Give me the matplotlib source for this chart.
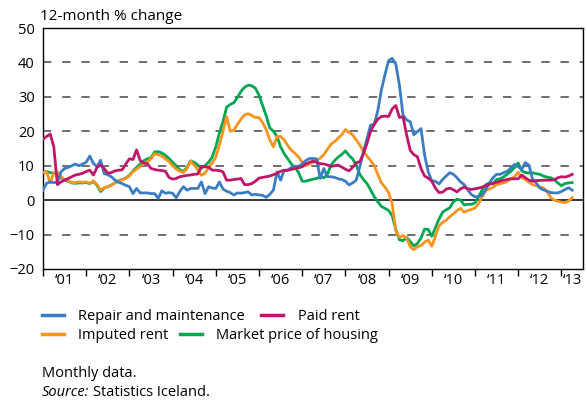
import numpy as np
import matplotlib
matplotlib.use("Agg")
import matplotlib.pyplot as plt
from matplotlib.lines import Line2D

plt.rcParams['font.family'] = ['Open Sans', 'DejaVu Sans']
plt.rcParams['font.size'] = 10.5

# 12-month % change, monthly, Jan 2001 - Apr 2013
repair = [2.9, 4.9, 5.3, 5.1, 5.2, 8.2, 9.2, 9.5, 10.0, 10.5, 10.0, 10.5,
          11.0, 12.8, 10.7, 9.7, 11.6, 7.7, 7.4, 6.8, 5.8, 5.2, 4.8, 4.3,
          3.9, 1.9, 3.4, 2.1, 2.1, 2.1, 1.9, 1.9, 0.5, 2.7, 2.0, 2.2,
          2.0, 0.7, 2.5, 3.9, 2.9, 3.4, 3.4, 3.4, 5.3, 1.9, 3.9, 3.5,
          3.4, 5.3, 3.2, 2.6, 2.2, 1.5, 2.1, 2.0, 2.2, 2.4, 1.5, 1.7,
          1.5, 1.4, 0.8, 1.7, 2.9, 8.2, 5.8, 8.7, 8.7, 9.5, 9.7, 9.8,
          10.5, 11.5, 12.1, 12.1, 12.0, 6.3, 9.2, 6.8, 6.8, 6.6, 6.2, 6.0,
          5.5, 4.4, 5.0, 5.8, 9.7, 14.0, 17.9, 21.8, 22.0, 26.0, 32.0, 36.5,
          40.5, 41.2, 39.5, 33.5, 24.7, 23.3, 22.8, 19.0, 19.9, 20.8, 13.1, 8.2,
          5.6, 5.5, 4.7, 6.0, 7.0, 8.0, 7.5, 6.5, 5.3, 4.5, 3.0, 1.6,
          1.0, 1.0, 1.5, 3.1, 5.0, 6.5, 7.5, 7.5, 8.0, 8.4, 9.4, 10.4,
          9.7, 9.0, 10.9, 10.1, 6.0, 5.0, 3.5, 3.0, 2.6, 2.2, 2.1, 2.1,
          2.5, 3.1, 3.6, 2.9]

paid_rent = [17.7, 18.5, 19.2, 15.5, 4.5, 5.3, 5.8, 6.3, 6.8, 7.3, 7.5, 7.8,
             8.3, 8.7, 7.3, 9.5, 10.2, 9.2, 7.8, 8.0, 8.5, 8.7, 8.8, 10.5,
             12.0, 11.8, 14.6, 11.5, 10.8, 10.6, 9.2, 8.9, 8.7, 8.6, 8.4, 6.6,
             6.1, 6.3, 6.8, 7.0, 7.2, 7.3, 7.5, 7.6, 9.7, 9.7, 9.6, 8.7,
             8.7, 8.6, 8.2, 5.8, 5.8, 6.0, 6.1, 6.3, 4.5, 4.5, 4.8, 5.5,
             6.4, 6.6, 6.8, 7.0, 7.4, 7.8, 8.4, 8.6, 8.7, 8.9, 9.2, 9.4,
             9.7, 10.5, 11.0, 11.3, 11.0, 10.6, 10.5, 10.2, 9.8, 10.0, 10.2, 9.6,
             9.0, 8.5, 9.5, 10.8, 11.2, 13.5, 16.5, 20.0, 22.0, 23.5, 24.3, 24.4,
             24.3, 26.5, 27.5, 24.0, 24.2, 19.0, 14.5, 13.2, 12.6, 9.2, 7.0, 6.4,
             5.5, 3.5, 2.2, 2.3, 3.2, 3.5, 3.0, 2.4, 3.3, 3.8, 3.3, 3.1,
             3.3, 3.5, 3.8, 4.2, 4.6, 4.9, 5.2, 5.5, 5.8, 6.0, 6.2, 6.2,
             6.2, 7.3, 6.5, 5.8, 5.5, 5.7, 5.7, 5.8, 5.8, 5.8, 5.9, 6.5,
             6.8, 6.7, 7.0, 7.5]

imputed_rent = [8.0, 8.3, 5.0, 7.9, 8.2, 6.8, 6.0, 5.8, 5.0, 5.1, 5.3, 5.2,
                5.3, 4.9, 5.6, 4.5, 2.9, 3.6, 3.9, 4.3, 5.0, 5.6, 6.0, 6.3,
                7.0, 8.3, 9.0, 9.8, 10.5, 11.2, 12.0, 13.5, 13.2, 12.8, 12.0, 11.2,
                10.0, 9.0, 8.4, 8.0, 9.2, 11.3, 10.2, 8.8, 7.2, 7.8, 9.5, 10.8,
                12.5, 16.0, 20.0, 24.3, 20.0, 20.3, 22.0, 23.5, 24.8, 25.1, 24.6, 24.0,
                24.0, 22.5, 20.5, 17.5, 15.5, 18.5, 18.5, 17.5, 15.8, 14.5, 13.6, 12.5,
                11.0, 10.0, 10.5, 11.0, 11.5, 12.2, 13.2, 14.8, 16.2, 17.0, 18.0, 19.0,
                20.5, 19.7, 19.0, 17.5, 16.0, 14.2, 12.8, 11.5, 10.0, 7.5, 5.0, 3.8,
                2.2, -1.0, -9.0, -10.8, -10.3, -11.0, -13.5, -14.4, -13.5, -13.2, -12.2, -11.6,
                -13.4, -10.5, -7.5, -6.5, -5.8, -4.8, -4.0, -3.0, -2.4, -3.5, -3.0, -2.7,
                -2.3, -1.0, 1.0, 2.8, 3.3, 3.7, 4.5, 4.8, 5.0, 5.5, 6.2, 6.8,
                8.1, 6.5, 6.0, 5.2, 4.5, 4.2, 3.8, 3.6, 2.5, 0.8, 0.0, -0.3,
                -0.6, -0.7, -0.3, 0.7]

market_price = [8.0, 8.3, 8.0, 7.8, 7.9, 6.5, 5.8, 5.5, 5.0, 4.9, 5.0, 5.0,
                5.1, 4.8, 5.4, 4.3, 2.5, 3.5, 3.9, 4.4, 5.0, 5.6, 6.0, 6.4,
                7.2, 8.5, 9.5, 10.5, 11.5, 12.0, 12.3, 14.0, 14.1, 13.7, 13.0, 12.1,
                11.0, 10.0, 8.8, 8.3, 9.5, 11.4, 11.0, 10.2, 9.3, 10.0, 11.0, 12.5,
                15.5, 19.5, 22.8, 27.0, 27.8, 28.3, 29.8, 31.6, 32.8, 33.4, 33.2, 32.5,
                30.5, 27.5, 24.5, 21.0, 20.0, 18.5, 15.5, 13.5, 12.0, 10.5, 9.5, 8.0,
                5.5, 5.5, 5.8, 6.1, 6.3, 6.8, 6.5, 7.5, 10.2, 11.5, 12.5, 13.3,
                14.3, 13.0, 12.0, 10.2, 7.5, 6.0, 4.8, 3.0, 1.0, -0.5, -1.8, -2.4,
                -3.0, -4.5, -8.5, -11.5, -11.8, -10.8, -12.0, -13.3, -12.6, -11.0, -8.4, -8.5,
                -10.5, -8.0, -5.5, -3.5, -2.8, -2.2, -0.5, 0.3, 0.0, -1.4, -1.2, -1.2,
                -0.8, 1.0, 3.0, 4.5, 5.0, 4.7, 6.0, 6.2, 6.8, 7.6, 8.4, 9.5,
                10.8, 8.5, 8.0, 7.9, 7.9, 7.7, 7.5, 7.0, 6.7, 6.5, 6.0, 5.0,
                4.2, 4.8, 5.0, 5.1]

years = list(range(2001, 2014))
year_labels = ["\u2018%02d" % (y % 100) for y in years]

# month positions as fractional years
months = 2001 + np.arange(len(repair)) / 12.0

c_blue = "#3b7dc4"
c_red = "#c0166a"
c_orange = "#f7941e"
c_green = "#00a651"

fig = plt.figure(figsize=(5.87, 4.03), dpi=100)
ax = fig.add_axes([43 / 587, 1 - 269 / 403, 540 / 587, 241 / 403])

lw = 2.0
ax.plot(months, market_price, color=c_green, lw=lw, zorder=3)
ax.plot(months, imputed_rent, color=c_orange, lw=lw, zorder=4)
ax.plot(months, repair, color=c_blue, lw=lw, zorder=5)
ax.plot(months, paid_rent, color=c_red, lw=lw, zorder=6)

# grid lines
for v in [40, 30, 20, 10, -10]:
    ax.axhline(v, color="#555555", lw=1.2, dashes=(5, 6.5), zorder=1)
ax.axhline(0, color="black", lw=1.1, zorder=2)

ax.set_ylim(-20, 50)
ax.set_xlim(2001, 2013.5)
ax.set_yticks(range(-20, 51, 10))
ax.tick_params(axis="y", length=0, pad=6, labelsize=10.5)

ax.set_xticks(years)
ax.set_xticklabels([])
ax.tick_params(axis="x", which="major", direction="out", length=5, width=1)
label_pos = [y + 0.5 for y in years[:-1]] + [2013.25]
ax.set_xticks(label_pos, minor=True)
ax.set_xticklabels(year_labels, minor=True)
ax.tick_params(axis="x", which="minor", length=0, pad=3, labelsize=10.5)

for s in ax.spines.values():
    s.set_linewidth(1.0)
    s.set_color("black")

fig.text(40 / 587, 1 - 19.5 / 403, "12-month % change", fontsize=11, va="baseline")

# legend in two rows
h_blue = Line2D([], [], color=c_blue, lw=2.5)
h_red = Line2D([], [], color=c_red, lw=2.5)
h_orange = Line2D([], [], color=c_orange, lw=2.5)
h_green = Line2D([], [], color=c_green, lw=2.5)

leg1 = fig.legend([h_blue, h_red], ["Repair and maintenance", "Paid rent"],
                  ncol=2, loc="center left", bbox_to_anchor=(42 / 587, 1 - 316.7 / 403),
                  frameon=False, borderpad=0, borderaxespad=0, handlelength=1.5,
                  handletextpad=1.0, columnspacing=1.1, fontsize=10.5)
leg2 = fig.legend([h_orange, h_green], ["Imputed rent", "Market price of housing"],
                  ncol=2, loc="center left", bbox_to_anchor=(42 / 587, 1 - 335.7 / 403),
                  frameon=False, borderpad=0, borderaxespad=0, handlelength=1.5,
                  handletextpad=1.0, columnspacing=0.75, fontsize=10.5)

fig.text(42 / 587, 1 - 377 / 403, "Monthly data.", fontsize=10.5, va="baseline")
src = fig.text(42 / 587, 1 - 396 / 403, "Source:", fontsize=10.5, va="baseline", style="italic")
fig.canvas.draw()
bb = src.get_window_extent()
fig.text((bb.x1 + 4) / 587, 1 - 396 / 403, "Statistics Iceland.", fontsize=10.5, va="baseline")

fig.savefig("out.png", dpi=100)
